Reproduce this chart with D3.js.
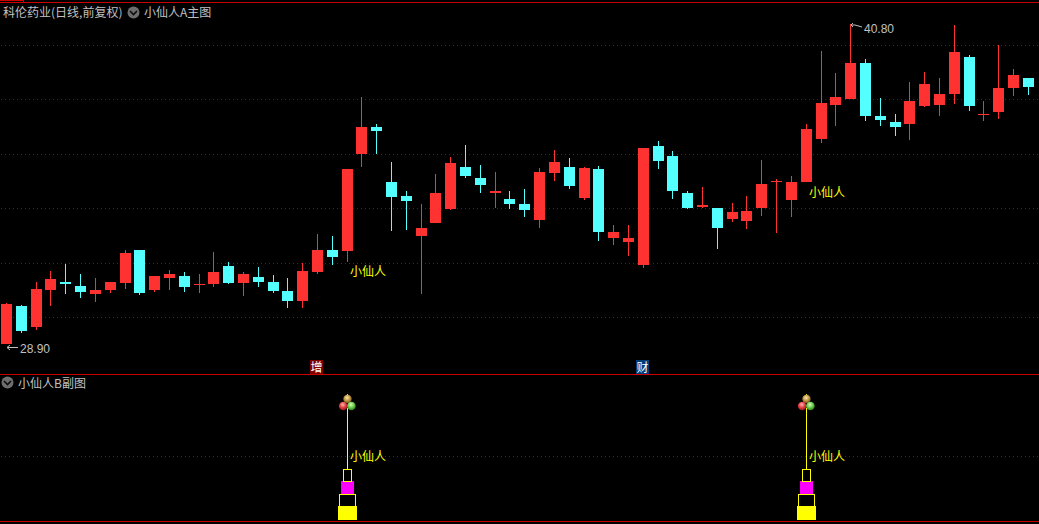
<!DOCTYPE html>
<html><head><meta charset="utf-8">
<script src="https://cdnjs.cloudflare.com/ajax/libs/d3/7.8.5/d3.min.js"></script>
<style>html,body{margin:0;padding:0;background:#000;overflow:hidden}svg{display:block}
text{font-family:"Noto Sans CJK SC","Noto Sans",sans-serif}</style></head><body>
<svg id="c" width="1039" height="524"></svg>
<script>
const opens=[28.90,30.31,29.53,30.91,31.20,31.06,30.76,30.91,31.17,32.40,30.91,31.35,31.43,31.09,31.13,31.80,31.17,31.39,31.20,30.87,30.50,31.58,32.40,32.36,35.97,36.97,34.92,34.40,32.92,33.40,33.92,35.48,35.07,34.52,34.29,34.11,33.51,35.26,35.48,34.33,35.41,32.84,32.69,31.84,36.26,35.89,34.52,34.00,33.96,33.55,33.47,33.96,34.92,34.26,34.92,36.52,37.79,38.01,39.35,37.38,37.16,37.08,37.75,37.79,38.20,39.57,37.42,37.53,38.42,38.79];
const highs=[30.42,30.35,31.20,31.61,31.87,31.50,31.35,31.20,32.40,32.40,31.43,31.65,31.58,31.50,32.32,31.95,31.58,31.76,31.47,31.35,31.91,32.99,32.92,35.41,38.09,37.08,35.67,34.59,34.11,35.22,35.85,36.30,35.56,35.30,34.59,34.66,35.45,36.11,35.82,35.48,35.52,33.33,33.33,36.19,36.45,36.08,34.59,34.74,33.96,34.14,34.40,35.74,35.04,35.15,37.08,39.80,38.98,40.80,39.50,38.05,37.45,38.64,39.02,38.79,40.76,39.65,37.94,40.02,39.13,38.79];
const lows=[28.90,29.31,29.42,30.31,30.76,30.61,30.46,30.80,30.95,30.72,30.83,30.91,30.83,30.80,31.02,31.13,30.69,31.02,30.80,30.24,30.24,31.50,31.84,31.95,35.48,35.97,33.10,33.14,30.76,33.40,33.88,35.07,34.52,33.96,33.92,33.62,33.21,34.96,34.66,34.26,32.73,32.58,32.17,31.73,35.41,34.29,33.92,33.96,32.43,33.44,33.18,33.66,33.03,33.62,34.92,36.38,37.01,38.01,37.19,37.01,36.64,36.49,37.71,37.38,37.82,37.57,37.19,37.27,38.12,38.16];
const closes=[30.39,29.38,30.95,31.32,31.13,30.83,30.91,31.20,32.28,30.80,31.43,31.50,31.02,31.13,31.58,31.17,31.50,31.20,30.87,30.50,31.61,32.40,32.14,35.41,36.97,36.82,34.37,34.22,33.21,34.52,35.63,35.15,34.81,34.59,34.11,33.88,35.30,35.67,34.77,35.45,33.07,33.07,32.84,36.19,35.71,34.59,33.96,34.07,33.21,33.81,33.85,34.85,34.96,34.92,36.90,37.86,38.09,39.35,37.38,37.23,36.97,37.94,38.57,38.20,39.76,37.75,37.45,38.42,38.90,38.46];
const isUp=[1,0,1,1,0,0,1,1,1,0,1,1,0,1,1,0,1,0,0,0,1,1,0,1,1,0,0,0,1,1,1,0,0,1,0,0,1,1,0,1,0,1,1,1,0,0,0,1,0,1,1,1,1,1,1,1,1,1,0,0,0,1,1,1,1,0,1,1,1,0];
const priceGrid=[40.02,38.01,35.97,33.96,31.91,29.90];
const signalBars=[23,54];
const signalLabel="小仙人";
const signalPrices=[31.43,34.37];
const towerLevels=[0,11,20.5,30.5,40,87.5];
const subGrid=[50];
const lowMark={i:0,v:"28.90"}, highMark={i:57,v:"40.80"};
const badges=[{i:21,t:"增",c:"#800000"},{i:43,t:"财",c:"#003c78"}];

const RED="#ff3232",CYAN="#54ffff",YEL="#ffff00",MAG="#ff00ff",GRID="#a00000",LINE="#cc0000",GRAY="#c0c0c0";
const svg=d3.select("#c");
const x=d3.scaleLinear().domain([0,19,20,69]).range([6.52,287.95,302.63,1028.4]);
const y=d3.scaleLinear().domain([28.9,40.8]).range([344,24]);
const ys=d3.scaleLinear().domain([0,50]).range([520,456]);
const col=i=>Math.floor(x(i));
const ry=v=>Math.round(y(v));
const defs=svg.append("defs");
[["ballR","#ffb4b4","#e03c3c","#8a1c1c"],["ballG","#dcf8c0","#66cc44","#2f7a20"],["ballB","#f8e8b0","#c09440","#70501e"]].forEach(g=>{
  const r=defs.append("radialGradient").attr("id",g[0]).attr("cx","45%").attr("cy","35%").attr("r","65%");
  r.append("stop").attr("offset","0").attr("stop-color",g[1]);
  r.append("stop").attr("offset","0.55").attr("stop-color",g[2]);
  r.append("stop").attr("offset","1").attr("stop-color",g[3]);
});
// frame
const hl=(y0,x0,x1,c)=>svg.append("rect").attr("x",x0).attr("y",y0).attr("width",x1-x0).attr("height",1).attr("fill",c);
hl(2,0,1039,LINE);hl(374,0,1039,LINE);hl(521,0,1039,LINE);hl(0,0,23,LINE);
svg.append("rect").attr("x",23).attr("y",0).attr("width",1).attr("height",2).attr("fill",LINE);
// grid
const dotted=(yy)=>svg.append("line").attr("x1",1).attr("x2",1039).attr("y1",yy+.5).attr("y2",yy+.5).attr("stroke",GRID).attr("stroke-width",1).attr("stroke-dasharray","1,3").attr("shape-rendering","crispEdges");
priceGrid.forEach(v=>dotted(ry(v)));
subGrid.forEach(v=>dotted(Math.round(ys(v))));
// candles
const idx=d3.range(opens.length);
svg.append("g").attr("shape-rendering","crispEdges").selectAll("rect.w").data(idx).join("rect").attr("class","w")
 .attr("x",col).attr("width",1).attr("y",i=>ry(highs[i])).attr("height",i=>Math.max(1,ry(lows[i])-ry(highs[i])))
 .attr("fill",i=>isUp[i]?RED:CYAN);
svg.append("g").attr("shape-rendering","crispEdges").selectAll("rect.b").data(idx).join("rect").attr("class","b")
 .attr("x",i=>col(i)-5).attr("width",11).attr("y",i=>Math.min(ry(opens[i]),ry(closes[i])))
 .attr("height",i=>Math.max(1,Math.abs(ry(opens[i])-ry(closes[i]))))
 .attr("fill",i=>isUp[i]?RED:CYAN);
// header text
const T=(s,xx,yy,c,fs,extra)=>{const t=svg.append("text").attr("x",xx).attr("y",yy).attr("fill",c).attr("font-size",fs).text(s);if(extra)extra(t);return t;};
const chev=(cx,cy)=>{svg.append("circle").attr("cx",cx).attr("cy",cy).attr("r",6).attr("fill","#6e6e6e");
 svg.append("path").attr("d",`M${cx-3.5},${cy-1.5}L${cx},${cy+2}L${cx+3.5},${cy-1.5}`).attr("fill","none").attr("stroke","#0c0c0c").attr("stroke-width",1.6);};
T("科伦药业(日线,前复权)",3,17,GRAY,12);
chev(133.5,12.5);
T("小仙人A主图",144,17,GRAY,12);
chev(7.5,382.5);
T("小仙人B副图",18,388,GRAY,12);
// marks
const numFont=t=>t.style("font-family","'Liberation Sans',sans-serif");
T(lowMark.v,20,353,GRAY,12,numFont);
T(highMark.v,864,33,GRAY,12,numFont);
svg.append("path").attr("d","M18,347.5H7M7,347.5L10,345M7,347.5L10,350").attr("fill","none").attr("stroke",GRAY);
svg.append("path").attr("d","M862,27L855,25H851M851,25L853,23M851,25L853,27").attr("fill","none").attr("stroke",GRAY);
// badges
[{x:310,b:badges[0]},{x:636,b:badges[1]}].forEach(o=>{
 svg.append("rect").attr("x",o.x).attr("y",360).attr("width",13).attr("height",14).attr("fill",o.b.c);
 T(o.b.t,o.x+.5,371.5,"#ffffff",12);
});
// signals
signalBars.forEach((b,k)=>{
 const c=col(b);
 T(signalLabel,c+3,y(signalPrices[k]),YEL,12);
 T(signalLabel,c+3,461,YEL,12);
 const g=svg.append("g").attr("shape-rendering","crispEdges");
 const L=towerLevels.map(v=>Math.round(ys(v)));
 g.append("rect").attr("x",c).attr("y",L[5]).attr("width",1).attr("height",L[4]-L[5]).attr("fill",YEL);
 g.append("rect").attr("x",c-9).attr("y",L[1]).attr("width",19).attr("height",L[0]-L[1]).attr("fill",YEL);
 g.append("rect").attr("x",c-8+.5).attr("y",L[2]+.5).attr("width",16).attr("height",L[1]-L[2]).attr("fill","none").attr("stroke",YEL);
 g.append("rect").attr("x",c-6).attr("y",L[3]).attr("width",13).attr("height",L[2]-L[3]).attr("fill",MAG);
 g.append("rect").attr("x",c-4+.5).attr("y",L[4]+.5).attr("width",8).attr("height",L[3]-L[4]).attr("fill","none").attr("stroke",YEL);
 g.append("rect").attr("x",c).attr("y",394).attr("width",1).attr("height",2).attr("fill",YEL);
 svg.append("circle").attr("cx",c+.5).attr("cy",399).attr("r",4.2).attr("fill","url(#ballB)");
 svg.append("circle").attr("cx",c-3.8).attr("cy",406).attr("r",4.3).attr("fill","url(#ballR)");
 svg.append("circle").attr("cx",c+4.4).attr("cy",406).attr("r",4.3).attr("fill","url(#ballG)");
});
</script></body></html>
